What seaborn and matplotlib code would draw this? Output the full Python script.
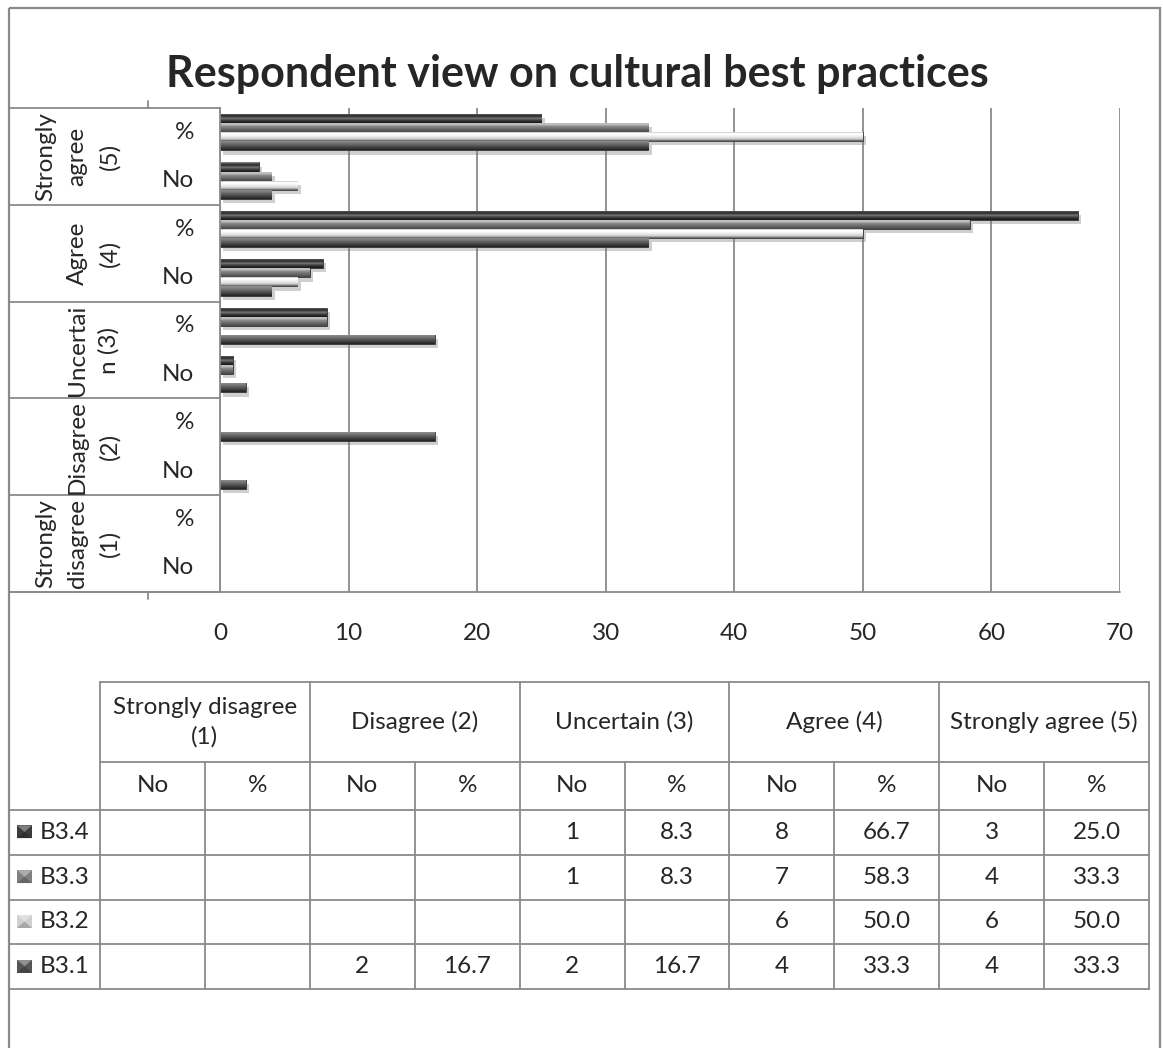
import numpy as np
import pandas as pd
import matplotlib
matplotlib.use("Agg")
import matplotlib.pyplot as plt
import matplotlib.patheffects as pe
from matplotlib.patches import Rectangle, Polygon
import seaborn as sns

# ---- data -------------------------------------------------------------
title = "Respondent view on cultural best practices"
levels = ["Strongly disagree (1)", "Disagree (2)", "Uncertain (3)",
          "Agree (4)", "Strongly agree (5)"]
level_axis_labels = ["Strongly\ndisagree\n(1)", "Disagree\n(2)", "Uncertai\nn (3)",
                     "Agree\n(4)", "Strongly\nagree\n(5)"]
measures = ["No", "%"]
series = ["B3.4", "B3.3", "B3.2", "B3.1"]
# one value per (level, measure) column: SD No, SD %, D No, D %, ... SA %
b3_4 = [None, None, None, None, 1, 8.3, 8, 66.7, 3, 25.0]
b3_3 = [None, None, None, None, 1, 8.3, 7, 58.3, 4, 33.3]
b3_2 = [None, None, None, None, None, None, 6, 50.0, 6, 50.0]
b3_1 = [None, None, 2, 16.7, 2, 16.7, 4, 33.3, 4, 33.3]
x_ticks = [0, 10, 20, 30, 40, 50, 60, 70]

series_values = {"B3.4": b3_4, "B3.3": b3_3, "B3.2": b3_2, "B3.1": b3_1}
base_colors = {"B3.4": "#3b3b3b", "B3.3": "#808080", "B3.2": "#d0d0d0", "B3.1": "#555555"}
# vertical shading of each bar, top to bottom (grey levels)
bevel = {
    "B3.4": [0.50, 0.24, 0.18, 0.34, 0.44, 0.28, 0.18, 0.12],
    "B3.3": [0.62, 0.80, 0.68, 0.54, 0.48, 0.42, 0.36, 0.30],
    "B3.2": [0.50, 0.98, 1.00, 0.96, 0.92, 0.86, 0.78, 0.45],
    "B3.1": [0.56, 0.52, 0.46, 0.40, 0.34, 0.28, 0.22, 0.16],
}

columns = [(lv, m) for lv in levels for m in measures]
col_keys = [f"{lv}|{m}" for lv, m in columns]

rows = []
for s in series:
    for key, v in zip(col_keys, series_values[s]):
        if v is not None:
            rows.append({"cat": key, "series": s, "value": v})
df = pd.DataFrame(rows)
cat_order = col_keys[::-1]  # top of the chart first

# ---- figure -------------------------------------------------------------
sns.set_style("white")
plt.rcParams["font.family"] = ["Lato", "DejaVu Sans"]
FS = 17.5
W, H = 1163, 1048
fig = plt.figure(figsize=(W / 100, H / 100), dpi=100)

# full-figure canvas in pixel units for frame, labels and data table
can = fig.add_axes([0, 0, 1, 1], zorder=0)
can.set_xlim(0, W)
can.set_ylim(H, 0)
can.axis("off")

PL, PR, PT, PB = 220, 1120, 108, 592
ax = fig.add_axes([PL / W, 1 - PB / H, (PR - PL) / W, (PB - PT) / H], zorder=1)
ax.patch.set_alpha(0)

sns.barplot(data=df, x="value", y="cat", hue="series", order=cat_order,
            hue_order=series, palette=base_colors, orient="h", width=0.75,
            dodge=True, errorbar=None, legend=False, ax=ax)

ax.set_xlim(0, 70)
ax.set_ylim(len(cat_order) - 0.5, -0.5)
ax.set_axisbelow(True)
ax.xaxis.grid(True, color="#8a8a8a", lw=1.3)
ax.yaxis.grid(False)
ax.set_xticks(x_ticks)
ax.set_xticklabels([str(t) for t in x_ticks], fontsize=FS)
ax.tick_params(axis="x", length=0, pad=22)
ax.set_yticks([])
ax.set_xlabel("")
ax.set_ylabel("")
for side in ["top", "right", "bottom"]:
    ax.spines[side].set_visible(False)
ax.spines["left"].set_color("#8a8a8a")
ax.spines["left"].set_linewidth(1.3)

# shaded, shadowed bars
color_to_series = {tuple(np.round(matplotlib.colors.to_rgba(c), 3)): s
                   for s, c in base_colors.items()}
for p in list(ax.patches):
    w, h = p.get_width(), p.get_height()
    if not np.isfinite(w) or w <= 0:
        continue
    s = color_to_series.get(tuple(np.round(p.get_facecolor(), 3)))
    if s is None:
        continue
    x0, y0 = p.get_x(), p.get_y()
    p.set_path_effects([pe.SimplePatchShadow(offset=(2.5, -3), shadow_rgbFace="#777777",
                                             alpha=0.35), pe.Normal()])
    p.set_edgecolor("#333333")
    p.set_linewidth(0.6)
    prof = np.array(bevel[s])
    img = np.repeat(prof[:, None, None], 3, axis=2)
    im = ax.imshow(img, extent=(x0, x0 + w, y0 + h, y0), aspect="auto",
                   interpolation="bilinear", zorder=p.get_zorder() + 0.1)
    im.set_clip_path(p)
ax.set_xlim(0, 70)
ax.set_ylim(len(cat_order) - 0.5, -0.5)

LINE = "#8a8a8a"
# outer chart frame (its lower edge lies below the saved area)
can.add_patch(Rectangle((9, 8), 1151, 1060, fill=False, ec=LINE, lw=1.6))
can.text(577, 74, title, ha="center", va="center", fontsize=31, fontweight="bold")

# category axis box on the left
cat_h = (PB - PT) / len(cat_order)
for k in range(0, len(cat_order) + 1, 2):
    y = PT + k * cat_h
    can.plot([10, PL], [y, y], color=LINE, lw=1.3)
can.plot([10, PR], [PB, PB], color=LINE, lw=1.3)
can.plot([148, 148], [PT - 7, PT], color=LINE, lw=1.3)
can.plot([148, 148], [PB, PB + 7], color=LINE, lw=1.3)
for i, key in enumerate(cat_order):
    measure = key.split("|")[1]
    can.text(194, PT + (i + 0.5) * cat_h, measure, ha="right", va="center", fontsize=FS)
for j, lab in enumerate(level_axis_labels[::-1]):
    yc = PT + (2 * j + 1) * cat_h
    can.text(120, yc, lab, rotation=90, ha="right", va="center",
             multialignment="center", fontsize=FS, linespacing=1.62)

# data table
xs = [100 + i * 104.9 for i in range(len(columns) + 1)]
y_head, y_mid, y_rows = 682, 762, 810
row_h = 44.8
y_end = y_rows + row_h * len(series)
can.plot([xs[0], xs[-1]], [y_head, y_head], color=LINE, lw=1.3)
can.plot([xs[0], xs[-1]], [y_mid, y_mid], color=LINE, lw=1.3)
for r in range(len(series) + 1):
    y = y_rows + r * row_h
    can.plot([10, xs[-1]], [y, y], color=LINE, lw=1.3)
for i, x in enumerate(xs):
    top = y_head if i % 2 == 0 else y_mid
    can.plot([x, x], [top, y_end], color=LINE, lw=1.3)

for j, lv in enumerate(levels):
    xc = (xs[2 * j] + xs[2 * j + 2]) / 2
    txt = "Strongly disagree\n(1)" if lv.startswith("Strongly disagree") else lv
    can.text(xc, (y_head + y_mid) / 2, txt, ha="center", va="center",
             fontsize=FS, linespacing=1.45)
for i, (lv, m) in enumerate(columns):
    can.text((xs[i] + xs[i + 1]) / 2, (y_mid + y_rows) / 2, m,
             ha="center", va="center", fontsize=FS)

for r, s in enumerate(series):
    yc = y_rows + (r + 0.5) * row_h
    # beveled legend key
    kx, ky, ks = 17, yc - 7, 15
    can.add_patch(Rectangle((kx, ky), ks, 13, fc=base_colors[s], ec="none"))
    can.add_patch(Polygon([(kx, ky), (kx + ks, ky), (kx + ks / 2, ky + 6.5)],
                          fc="white", alpha=0.35, ec="none"))
    can.add_patch(Polygon([(kx, ky + 13), (kx + ks, ky + 13), (kx + ks / 2, ky + 6.5)],
                          fc="black", alpha=0.2, ec="none"))
    can.text(40, yc, s, ha="left", va="center", fontsize=FS)
    for i, v in enumerate(series_values[s]):
        if v is None:
            continue
        label = f"{v:.0f}" if columns[i][1] == "No" else f"{v:.1f}"
        can.text((xs[i] + xs[i + 1]) / 2, yc, label, ha="center", va="center", fontsize=FS)

fig.savefig("out.png", dpi=100)
